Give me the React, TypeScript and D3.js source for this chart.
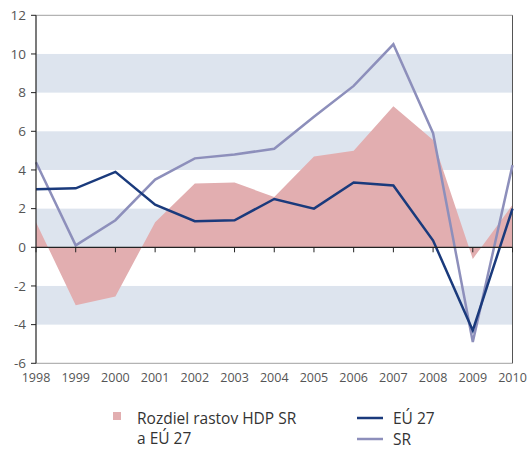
import React from "react";
import * as d3 from "d3";

const years = [1998, 1999, 2000, 2001, 2002, 2003, 2004, 2005, 2006, 2007, 2008, 2009, 2010];
const eu27 = [3.0, 3.05, 3.9, 2.2, 1.35, 1.4, 2.5, 2.0, 3.35, 3.2, 0.35, -4.3, 2.0];
const sr = [4.4, 0.1, 1.4, 3.5, 4.6, 4.8, 5.1, 6.75, 8.35, 10.5, 5.9, -4.9, 4.25];
const diff = [1.3, -3.0, -2.55, 1.3, 3.3, 3.35, 2.6, 4.7, 5.0, 7.3, 5.55, -0.6, 2.2];
const yTicks = [-6, -4, -2, 0, 2, 4, 6, 8, 10, 12];
const bands: [number, number][] = [[8, 10], [4, 6], [0, 2], [-4, -2]];

const W = 528, H = 450;
const x = d3.scaleLinear().domain([1998, 2010]).range([36, 512.5]);
const y = d3.scaleLinear().domain([-6, 12]).range([363.3, 15.3]);

const font = "'Open Sans', 'Noto Sans', sans-serif";

export default function App() {
  const area = d3.area<number>().x((_, i) => x(years[i])).y0(y(0)).y1((d) => y(d))(diff) || "";
  const line = d3.line<number>().x((_, i) => x(years[i])).y((d) => y(d));
  return (
    <svg width={W} height={H} style={{ position: "absolute", left: 0, top: 0 }} fontFamily={font}>
      {bands.map(([a, b], i) => (
        <rect key={i} x={x(1998)} width={x(2010) - x(1998)} y={y(b)} height={y(a) - y(b)} fill="#dde4ee" />
      ))}
      <path d={area} fill="#e2aeb0" />
      <line x1={x(1998)} x2={x(2010)} y1={y(12)} y2={y(12)} stroke="#a0a0a0" strokeWidth={1} />
      <line x1={x(1998)} x2={x(2010)} y1={y(-6)} y2={y(-6)} stroke="#a0a0a0" strokeWidth={1} />
      <line x1={x(2010)} x2={x(2010)} y1={y(12)} y2={y(-6)} stroke="#555" strokeWidth={1} />
      <path d={line(sr) || ""} fill="none" stroke="#8d8fbb" strokeWidth={2.5} strokeLinejoin="miter" />
      <path d={line(eu27) || ""} fill="none" stroke="#1a3a7c" strokeWidth={2.5} strokeLinejoin="miter" />
      <line x1={x(1998)} x2={x(2010)} y1={y(0)} y2={y(0)} stroke="#222" strokeWidth={1.2} />
      {years.map((yr) => (
        <line key={yr} x1={x(yr)} x2={x(yr)} y1={y(0)} y2={y(0) + 5} stroke="#222" strokeWidth={1} />
      ))}
      <line x1={x(1998)} x2={x(1998)} y1={y(12)} y2={y(-6)} stroke="#222" strokeWidth={1.2} />
      {yTicks.map((t) => (
        <g key={t}>
          <line x1={x(1998) - 5} x2={x(1998)} y1={y(t)} y2={y(t)} stroke="#222" strokeWidth={1} />
          <text x={26} y={y(t)} dy="0.36em" textAnchor="end" fontSize={13.5} fill="#555">{t}</text>
        </g>
      ))}
      {years.map((yr) => (
        <text key={yr} x={x(yr)} y={382} textAnchor="middle" fontSize={12.5} fill="#555">{yr}</text>
      ))}
      <rect x={113} y={412} width={8} height={8} fill="#e2aeb0" />
      <text x={137} y={424} fontSize={15.5} fill="#333">Rozdiel rastov HDP SR</text>
      <text x={137} y={444} fontSize={15.5} fill="#333">a EÚ 27</text>
      <line x1={357} x2={383} y1={418} y2={418} stroke="#1a3a7c" strokeWidth={2.5} />
      <text x={393} y={424} fontSize={15.5} fill="#333">EÚ 27</text>
      <line x1={357} x2={383} y1={439} y2={439} stroke="#8d8fbb" strokeWidth={2.5} />
      <text x={393} y={445} fontSize={15.5} fill="#333">SR</text>
    </svg>
  );
}
